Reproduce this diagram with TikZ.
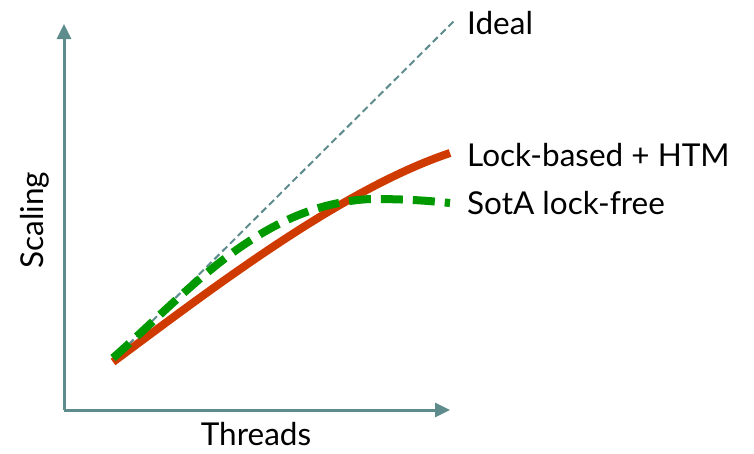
\documentclass[tikz,border=0pt]{standalone}
\usepackage{fontspec}
\setmainfont{Lato}
\usetikzlibrary{arrows.meta}
\definecolor{axiscol}{HTML}{5E8C8C}
\definecolor{lockcol}{HTML}{CF3A00}
\definecolor{freecol}{HTML}{009A00}
\tikzset{
  axis/.style={draw=axiscol, line width=3pt, -{Triangle[length=15pt,width=14pt]}},
  ideal/.style={draw=axiscol, line width=2pt, dash pattern=on 7pt off 4pt},
  lockline/.style={draw=lockcol, line width=8pt},
  freeline/.style={draw=freecol, line width=8pt, dash pattern=on 22pt off 10pt},
  lbl/.style={font=\fontsize{31.5}{34}\selectfont, text=black, inner sep=0pt},
}
\begin{document}
\begin{tikzpicture}[x=1pt,y=-1pt]
\useasboundingbox (0,0) rectangle (754,453);
\coordinate (O) at (64,410);
\coordinate (Ytop) at (64,24);
\coordinate (Xend) at (450,410);
\draw[axis] (O) -- (Ytop);
\draw[axis] (O) -- (Xend);
\coordinate (s) at (113,360);
\coordinate (ie) at (455,20);
\draw[ideal] (s) -- (ie);
\coordinate (r0) at (113,362);
\coordinate (r1) at (450,153);
\draw[lockline] (r0) .. controls (210,290) and (340,190) .. (r1);
\coordinate (g0) at (113,358);
\coordinate (gm) at (370,199);
\coordinate (g1) at (450,203);
\draw[freeline] (g0) .. controls (190,290) and (260,205) .. (gm) .. controls (410,199) and (430,201) .. (g1);
\node[lbl, anchor=west] (l1) at (467,23) {Ideal};
\node[lbl, anchor=west] (l2) at (467,155) {Lock-based + HTM};
\node[lbl, anchor=west] (l3) at (467,203) {SotA lock-free};
\node[lbl, anchor=base] (xl) at (256,445) {Threads};
\node[lbl, rotate=90, anchor=base] (yl) at (43,220) {Scaling};
\end{tikzpicture}
\end{document}
